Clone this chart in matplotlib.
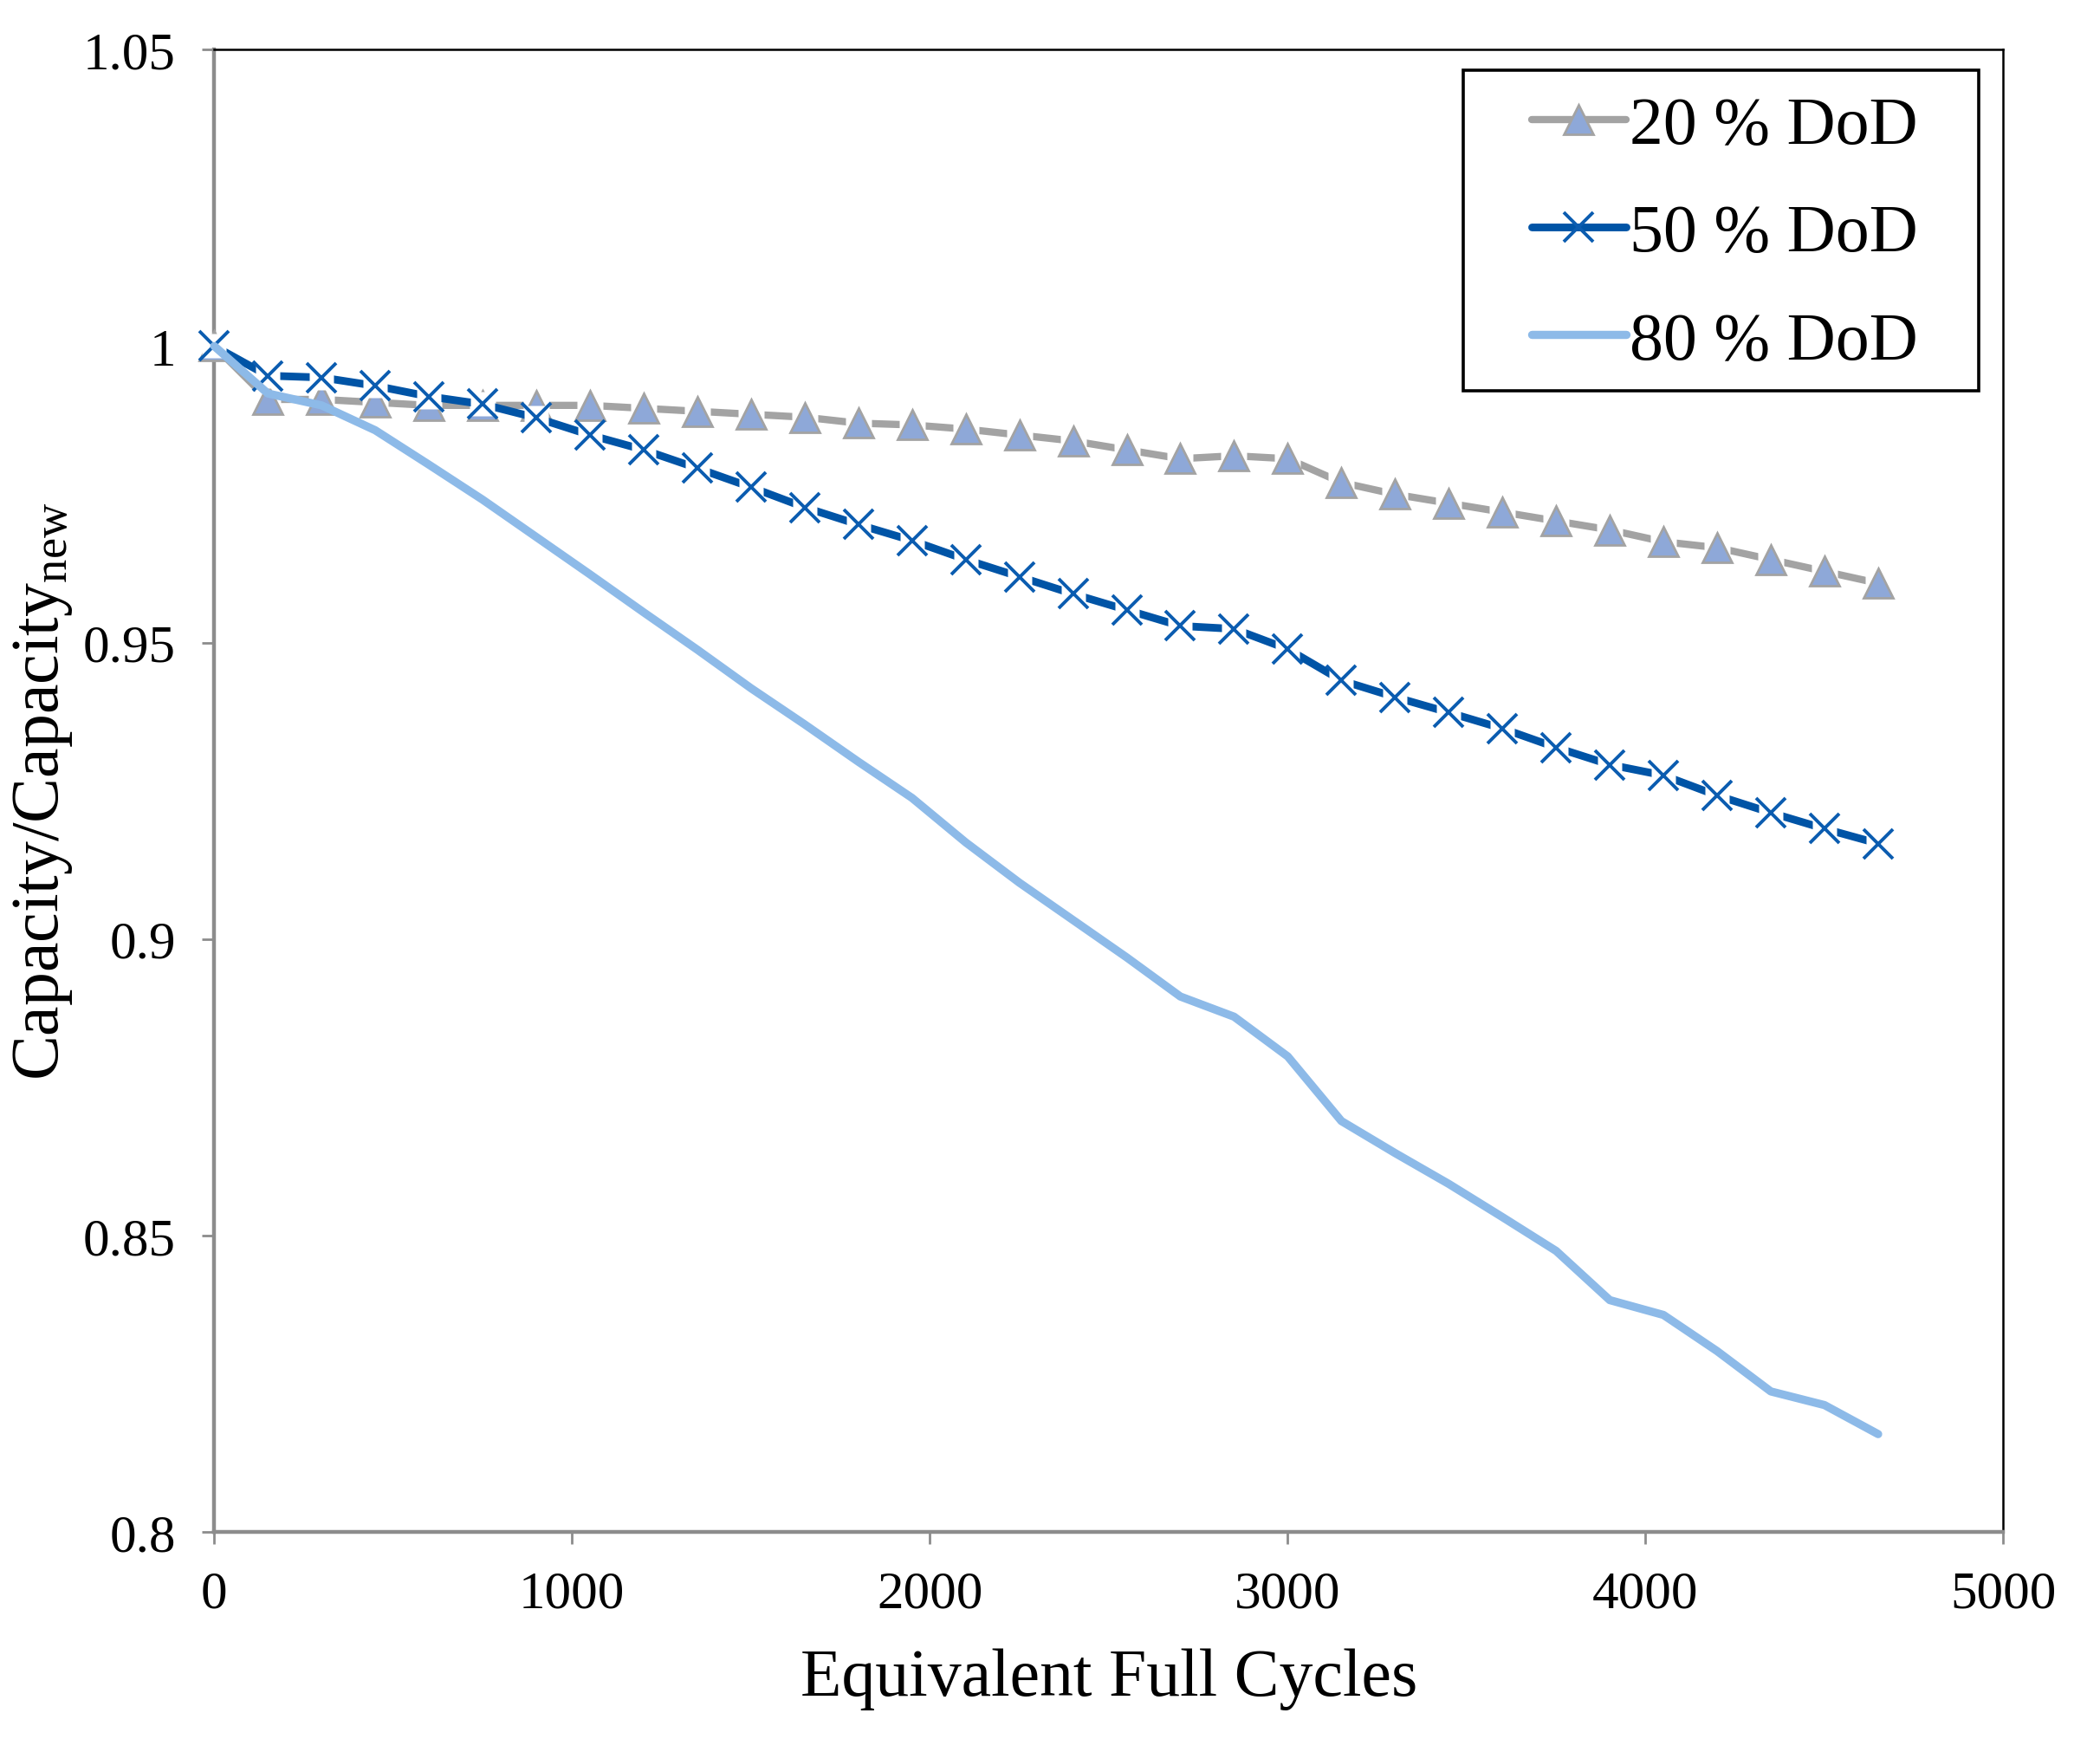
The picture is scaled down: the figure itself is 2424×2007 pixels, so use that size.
#!/usr/bin/python3
# capacity fade vs. equivalent full cycles for three depths of discharge
from matplotlib import pyplot as plt
from matplotlib.lines import Line2D
from matplotlib.patches import Rectangle

plt.rcParams['font.family'] = ['Liberation Serif', 'DejaVu Serif']
plt.rcParams['mathtext.fontset'] = 'custom'
plt.rcParams['mathtext.rm'] = 'Liberation Serif'
plt.rcParams['mathtext.it'] = 'Liberation Serif:italic'

# equivalent full cycles (every 150 cycles)
cycles = [0, 150, 300, 450, 600, 750, 900, 1050, 1200, 1350, 1500, 1650,
          1800, 1950, 2100, 2250, 2400, 2550, 2700, 2850, 3000, 3150, 3300,
          3450, 3600, 3750, 3900, 4050, 4200, 4350, 4500, 4650]

dod20 = [1.000, 0.991, 0.991, 0.9905, 0.990, 0.990, 0.990, 0.990, 0.9895,
         0.989, 0.9885, 0.988, 0.987, 0.9867, 0.986, 0.985, 0.984, 0.9825,
         0.981, 0.9815, 0.981, 0.977, 0.975, 0.9735, 0.972, 0.9705, 0.969,
         0.967, 0.966, 0.964, 0.962, 0.960]

dod50 = [1.000, 0.995, 0.9947, 0.9933, 0.9915, 0.9902, 0.9879, 0.985, 0.9825,
         0.9794, 0.9762, 0.9728, 0.9699, 0.9672, 0.964, 0.9611, 0.9582,
         0.9555, 0.9528, 0.9523, 0.9489, 0.9436, 0.9408, 0.9382, 0.9355,
         0.9323, 0.9294, 0.9276, 0.9242, 0.9213, 0.9186, 0.9161]

dod80 = [1.000, 0.992, 0.990, 0.9858, 0.980, 0.9741, 0.9678, 0.9615, 0.9551,
         0.9488, 0.9423, 0.9362, 0.9299, 0.9238, 0.9163, 0.9095, 0.9032,
         0.8969, 0.8903, 0.8869, 0.8802, 0.8693, 0.8639, 0.8587, 0.8531,
         0.8474, 0.8391, 0.8366, 0.8305, 0.8237, 0.8214, 0.8165]

labels = ['20 % DoD', '50 % DoD', '80 % DoD']

xticks = [0, 1000, 2000, 3000, 4000, 5000]
yticks = [0.8, 0.85, 0.9, 0.95, 1.0, 1.05]
ytick_labels = ['0.8', '0.85', '0.9', '0.95', '1', '1.05']

GRAY = '#A3A3A3'
TRI_FILL = '#8EA8D8'
BLUE = '#0054A6'
XBLUE = '#0B5CB0'
LIGHT = '#8DBAE8'


def main():
    fig = plt.figure(figsize=(12.12, 10.04), dpi=200)
    ax = fig.add_axes([0.102, 0.119, 0.852, 0.852])

    # 20 % DoD: gray line, white marker boxes, blue-gray triangles
    ax.plot(cycles, dod20, color=GRAY, lw=3.0, solid_capstyle='round',
            clip_on=False, zorder=3)
    ax.plot(cycles, dod20, ls='none', marker='s', ms=11, mfc='white',
            mec='none', clip_on=False, zorder=3.1)
    ax.plot(cycles, dod20, ls='none', marker='^', ms=12, mfc=TRI_FILL,
            mec=GRAY, mew=1.0, clip_on=False, zorder=3.2)

    # 50 % DoD: dark blue line, white marker boxes, x markers
    ax.plot(cycles, dod50, color=BLUE, lw=3.2, solid_capstyle='round',
            clip_on=False, zorder=4)
    ax.plot(cycles, dod50, ls='none', marker='s', ms=10, mfc='white',
            mec='none', clip_on=False, zorder=4.1)
    ax.plot(cycles, dod50, ls='none', marker='x', ms=12, mec=XBLUE, mew=1.4,
            clip_on=False, zorder=4.2)

    # 80 % DoD: plain light blue line
    ax.plot(cycles, dod80, color=LIGHT, lw=3.4, solid_capstyle='round',
            clip_on=False, zorder=5)

    ax.set_xlim(0, 5000)
    ax.set_ylim(0.8, 1.05)
    ax.set_xticks(xticks)
    ax.set_yticks(yticks)
    ax.set_yticklabels(ytick_labels)

    for side in ['left', 'bottom']:
        ax.spines[side].set_color('#8C8C8C')
        ax.spines[side].set_linewidth(1.6)
    for side in ['top', 'right']:
        ax.spines[side].set_color('black')
        ax.spines[side].set_linewidth(0.9)

    ax.tick_params(direction='out', length=5, width=1.0, color='#8C8C8C',
                   labelsize=22, pad=11)

    ax.set_xlabel('Equivalent Full Cycles', fontsize=28)
    ax.xaxis.set_label_coords(0.5, -0.078)
    ax.set_ylabel(r'Capacity/Capacity$_{\mathrm{new}}$', fontsize=28)
    ax.yaxis.set_label_coords(-0.078, 0.5)

    # legend: frame drawn separately so the padding matches
    handles = [
        Line2D([], [], color=GRAY, lw=3.0, solid_capstyle='round',
               marker='^', ms=12, mfc=TRI_FILL, mec=GRAY, mew=1.0),
        Line2D([], [], color=BLUE, lw=3.2, solid_capstyle='round',
               marker='x', ms=12, mec=XBLUE, mew=1.4),
        Line2D([], [], color=LIGHT, lw=3.4, solid_capstyle='round'),
    ]
    ax.legend(handles, labels, loc='upper right',
              bbox_to_anchor=(0.952, 0.969), borderaxespad=0, borderpad=0,
              frameon=False, fontsize=28, handlelength=1.4,
              handletextpad=0.05, labelspacing=0.68)
    ax.add_patch(Rectangle((0.698, 0.770), 0.288, 0.216,
                           transform=ax.transAxes, fill=False,
                           edgecolor='black', lw=1.3, zorder=6))

    fig.savefig('out.png', dpi=200)


if __name__ == '__main__':
    main()
